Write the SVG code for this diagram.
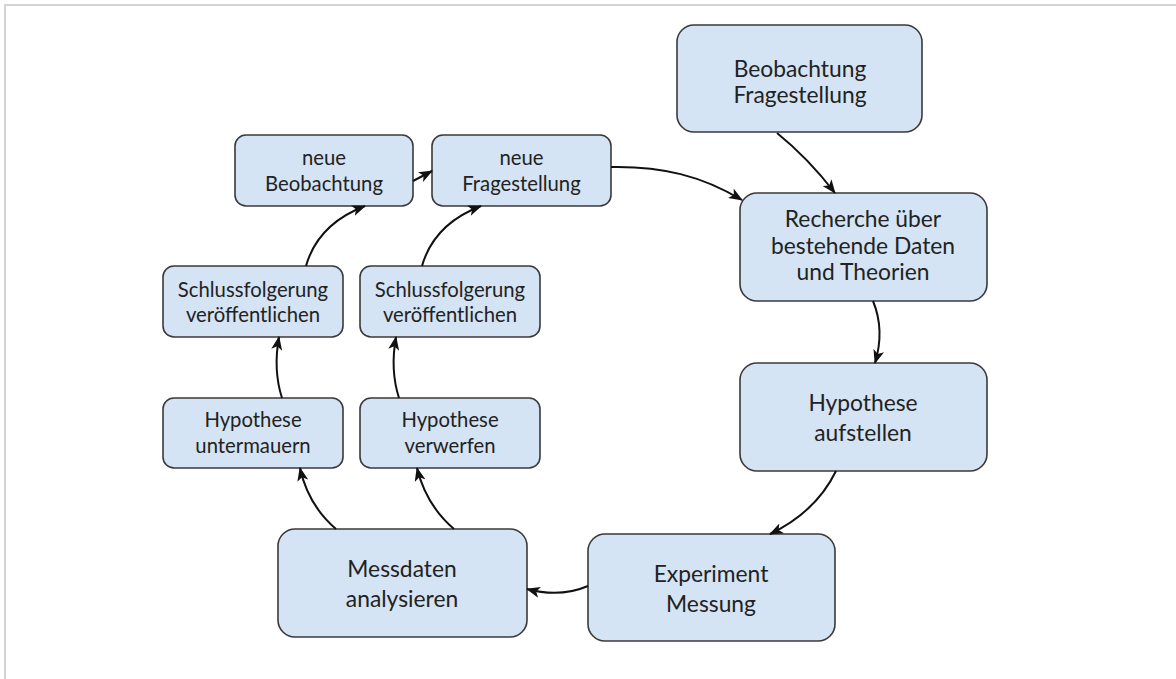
<svg xmlns="http://www.w3.org/2000/svg" width="1176" height="679" viewBox="0 0 1176 679">
  <style>
    .node rect { fill: #d4e4f4; stroke: #3a3a3a; stroke-width: 1.6; }
    .node text { font-family: Lato, "Liberation Sans", sans-serif; fill: #222; text-anchor: middle; }
    .big text { font-size: 22.8px; }
    .small text { font-size: 20.3px; }
    .conn path { fill: none; stroke: #111; stroke-width: 2; }
    .frame { stroke: #d4d4d4; stroke-width: 2; fill: none; }
  </style>
  <defs>
    <marker id="arr" viewBox="0 0 14 11" refX="13" refY="5.5" markerWidth="14" markerHeight="11" markerUnits="userSpaceOnUse" orient="auto">
      <path d="M0,0 L14,5.5 L0,11 L3.5,5.5 Z" fill="#111"/>
    </marker>
  </defs>
  <rect width="1176" height="679" fill="#fff"/>
  <path class="frame" d="M5,679 L5,5 L1176,5"/>

  <g id="n-beobachtung" class="node big">
    <rect x="677" y="25" width="245" height="107" rx="17"/>
    <text x="800" y="77">Beobachtung</text>
    <text x="800" y="103">Fragestellung</text>
  </g>
  <g id="n-recherche" class="node big">
    <rect x="740" y="193" width="247" height="108" rx="17"/>
    <text x="863" y="227">Recherche über</text>
    <text x="863" y="253.5">bestehende Daten</text>
    <text x="863" y="280">und Theorien</text>
  </g>
  <g id="n-hypothese" class="node big">
    <rect x="740" y="363" width="247" height="108" rx="17"/>
    <text x="863" y="411">Hypothese</text>
    <text x="863" y="441">aufstellen</text>
  </g>
  <g id="n-experiment" class="node big">
    <rect x="588" y="534" width="247" height="107" rx="17"/>
    <text x="711" y="582">Experiment</text>
    <text x="711" y="612">Messung</text>
  </g>
  <g id="n-messdaten" class="node big">
    <rect x="278" y="529" width="249" height="108" rx="17"/>
    <text x="402" y="577">Messdaten</text>
    <text x="402" y="607">analysieren</text>
  </g>
  <g id="n-untermauern" class="node small">
    <rect x="163" y="398" width="180" height="70" rx="11"/>
    <text x="253" y="427">Hypothese</text>
    <text x="253" y="453">untermauern</text>
  </g>
  <g id="n-verwerfen" class="node small">
    <rect x="360" y="398" width="180" height="70" rx="11"/>
    <text x="450" y="427">Hypothese</text>
    <text x="450" y="453">verwerfen</text>
  </g>
  <g id="n-schluss1" class="node small">
    <rect x="163" y="266" width="180" height="71" rx="11"/>
    <text x="253" y="297">Schlussfolgerung</text>
    <text x="253" y="322">veröffentlichen</text>
  </g>
  <g id="n-schluss2" class="node small">
    <rect x="360" y="266" width="180" height="71" rx="11"/>
    <text x="450" y="297">Schlussfolgerung</text>
    <text x="450" y="322">veröffentlichen</text>
  </g>
  <g id="n-neue-beobachtung" class="node small">
    <rect x="235" y="135" width="178" height="71" rx="11"/>
    <text x="324" y="165">neue</text>
    <text x="324" y="191">Beobachtung</text>
  </g>
  <g id="n-neue-fragestellung" class="node small">
    <rect x="432" y="135" width="179" height="71" rx="11"/>
    <text x="521.5" y="165">neue</text>
    <text x="521.5" y="191">Fragestellung</text>
  </g>

  <g id="connectors" class="conn">
    <path d="M777,133 Q808,158 835,193" marker-end="url(#arr)"/>
    <path d="M611,167 C662,166 702,176 742,200" marker-end="url(#arr)"/>
    <path d="M873,301 Q885,330 875,363" marker-end="url(#arr)"/>
    <path d="M836,471 Q816,512 770,534" marker-end="url(#arr)"/>
    <path d="M588,586 Q560,598 527,589" marker-end="url(#arr)"/>
    <path d="M336,529 Q308,505 300,468" marker-end="url(#arr)"/>
    <path d="M454,529 Q426,505 417,468" marker-end="url(#arr)"/>
    <path d="M282,398 Q273,370 279,337" marker-end="url(#arr)"/>
    <path d="M399,398 Q390,370 396,337" marker-end="url(#arr)"/>
    <path d="M306,266 Q318,224 365,206" marker-end="url(#arr)"/>
    <path d="M422,266 Q434,224 481,206" marker-end="url(#arr)"/>
    <path d="M413,181 L432,171" marker-end="url(#arr)"/>
  </g>
</svg>
